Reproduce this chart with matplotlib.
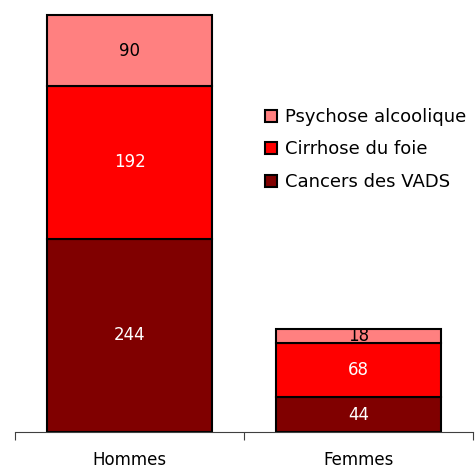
import matplotlib.pyplot as plt
import numpy as np

categories = ["Hommes", "Femmes"]
series_names = ["Cancers des VADS", "Cirrhose du foie", "Psychose alcoolique"]
cancers = [244, 44]
cirrhose = [192, 68]
psychose = [90, 18]

colors = ["#800000", "#FF0000", "#FF8080"]
text_colors = ["white", "white", "black"]


def main():
    fig = plt.figure(figsize=(4.75, 4.7), dpi=100)
    ax = fig.add_axes([15/475, 38/470, 458/475, 432/470])

    x = np.arange(len(categories))
    bottom = np.zeros(len(categories))
    bars = []
    for vals, name, col, tcol in zip([cancers, cirrhose, psychose], series_names, colors, text_colors):
        b = ax.bar(x, vals, width=0.72, bottom=bottom, color=col, edgecolor="black",
                   linewidth=1.5, label=name)
        for xi, v, bt in zip(x, vals, bottom):
            ax.text(xi, bt + v / 2, str(v), ha="center", va="center", color=tcol, fontsize=12)
        bottom += vals
        bars.append(b)

    ax.set_xlim(-0.5, 1.5)
    ax.set_ylim(0, 526 * 432 / 417)
    for s in ["top", "right", "left"]:
        ax.spines[s].set_visible(False)
    ax.spines["bottom"].set_color("#404040")
    ax.set_yticks([])
    ax.set_xticks([-0.5, 0.5, 1.5])
    ax.set_xticklabels([])
    ax.set_xticks(x, minor=True)
    ax.set_xticklabels(categories, minor=True, fontsize=12)
    ax.tick_params(axis="x", which="major", length=6, color="#404040")
    ax.tick_params(axis="x", which="minor", length=0, pad=14)

    handles = bars[::-1]
    ax.legend(handles, series_names[::-1], loc="upper left",
              bbox_to_anchor=(265/475, 1 - 108/470), bbox_transform=fig.transFigure,
              frameon=False, fontsize=13, handlelength=0.65, handleheight=0.65,
              handletextpad=0.45, labelspacing=0.8, borderaxespad=0, borderpad=0)

    fig.savefig("out.png", dpi=100)


if __name__ == "__main__":
    main()
